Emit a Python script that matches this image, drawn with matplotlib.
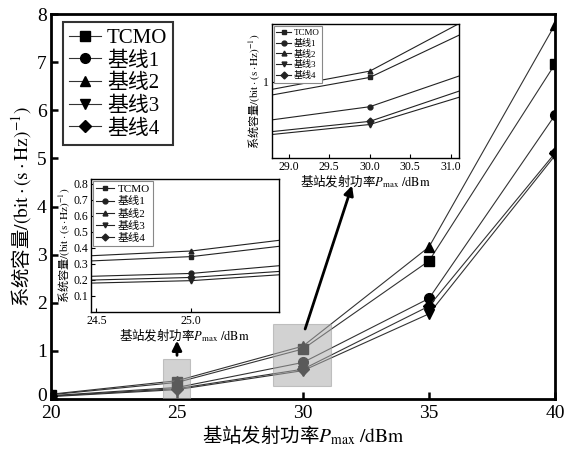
import numpy as np
import matplotlib
matplotlib.use("Agg")
from matplotlib import pyplot as plt
from matplotlib.patches import Rectangle
from matplotlib.transforms import ScaledTranslation

plt.rcParams['font.family'] = ['Liberation Serif', 'Noto Sans CJK SC']
plt.rcParams['mathtext.fontset'] = 'stix'

# data
P_MAX = [20, 25, 30, 35, 40]
NAMES = ['TCMO', '基线1', '基线2', '基线3', '基线4']
MARKERS = ['s', 'o', '^', 'v', 'D']
TCMO = [0.09, 0.345, 1.04, 2.87, 6.96]
BASE1 = [0.07, 0.24, 0.76, 2.09, 5.90]
BASE2 = [0.10, 0.38, 1.10, 3.16, 7.78]
BASE3 = [0.05, 0.195, 0.59, 1.77, 5.06]
BASE4 = [0.06, 0.215, 0.62, 1.93, 5.11]
SERIES = [TCMO, BASE1, BASE2, BASE3, BASE4]

CJK = 'Noto Sans CJK SC'
XLAB = '基站发射功率$P_{\\mathrm{max}}$ $\\mathrm{/dBm}$'
YLAB = '系统容量$\\mathrm{/(bit\\cdot(s\\cdot Hz)^{-1})}$'

fig = plt.figure(figsize=(5.71, 4.54), dpi=100)
ax = fig.add_axes([0.0893, 0.1211, 0.8827, 0.848])

for y, m, name in zip(SERIES, MARKERS, NAMES):
    ax.plot(P_MAX, y, color='#333333', lw=0.8, marker=m, ms=7 if m != 'D' else 6,
            mfc='black', mec='black', label=name, zorder=2)

ax.set_xlim(20, 40)
ax.set_ylim(0, 8)
ax.set_xticks([20, 25, 30, 35, 40])
ax.set_yticks(range(0, 9))
ax.tick_params(direction='in', length=5, width=1.8, labelsize=14)
ax.tick_params(axis='x', pad=4)
ax.tick_params(axis='y', pad=3)
for s in ax.spines.values():
    s.set_linewidth(2)
ax.set_xlabel(XLAB, family=CJK, fontsize=14, labelpad=2)
ax.set_ylabel(YLAB, family=CJK, fontsize=14, labelpad=2)

# nudge the "0" up a little so it doesn't sit on "20"
fig.canvas.draw()
lab0 = ax.get_yticklabels()[0]
lab0.set_transform(lab0.get_transform() + ScaledTranslation(0, 3 / 72, fig.dpi_scale_trans))

leg = ax.legend(loc='upper left', bbox_to_anchor=(0.024, 0.979), fontsize=15,
                handlelength=1.5, handletextpad=0.3, labelspacing=0.15,
                borderpad=0.3, borderaxespad=0, fancybox=False,
                edgecolor='#333333', framealpha=1)
leg.get_frame().set_linewidth(1.5)

# zoom boxes
ax.add_patch(Rectangle((24.45, 0.0), 1.07, 0.83, facecolor='#ababab', alpha=0.53,
                       edgecolor='#999999', lw=0.8, zorder=3))
ax.add_patch(Rectangle((28.8, 0.27), 2.3, 1.28, facecolor='#ababab', alpha=0.53,
                       edgecolor='#999999', lw=0.8, zorder=3))

ax.annotate('', xy=(25, 1.27), xytext=(25, 0.85),
            arrowprops=dict(arrowstyle='-|>', color='black', lw=2, mutation_scale=14),
            zorder=5)
ax.annotate('', xy=(31.98, 4.49), xytext=(30.05, 1.4),
            arrowprops=dict(arrowstyle='-|>', color='black', lw=2, mutation_scale=14),
            zorder=5)


def inset(rect, xlim, ylim, xticks, yticks, xfmt, yfmt, legsize):
    a = fig.add_axes(rect)
    for y, m, name in zip(SERIES, MARKERS, NAMES):
        a.plot(P_MAX, y, color='#222222', lw=0.8, marker=m, ms=3.5,
               mfc='#222222', mec='#222222', label=name)
    a.set_xlim(*xlim)
    a.set_ylim(*ylim)
    a.set_xticks(xticks)
    a.set_xticklabels([xfmt.format(v) for v in xticks])
    a.set_yticks(yticks)
    a.set_yticklabels([yfmt.format(v) for v in yticks])
    a.tick_params(direction='in', length=3, width=0.8, labelsize=8.5, pad=2)
    for s in a.spines.values():
        s.set_linewidth(1)
    a.set_xlabel(XLAB, family=CJK, fontsize=9, labelpad=0)
    a.set_ylabel(YLAB, family=CJK, fontsize=8, labelpad=1)
    lg = a.legend(loc='upper left', fontsize=legsize, handlelength=1.6,
                  handletextpad=0.3, labelspacing=0.2, borderpad=0.3,
                  borderaxespad=0.2, fancybox=False, edgecolor='#888888',
                  framealpha=1)
    lg.get_frame().set_linewidth(0.8)
    return a


inset([0.159, 0.313, 0.329, 0.293], (24.47, 25.46), (0, 0.83),
      [24.5, 25.0], [0.1, 0.2, 0.3, 0.4, 0.5, 0.6, 0.7, 0.8], '{:.1f}', '{:.1f}', 8)
inset([0.476, 0.652, 0.3275, 0.295], (28.79, 31.1), (0.27, 1.55),
      [29.0, 29.5, 30.0, 30.5, 31.0], [1], '{:.1f}', '{:d}', 6.5)

fig.savefig('out.png', dpi=100)
